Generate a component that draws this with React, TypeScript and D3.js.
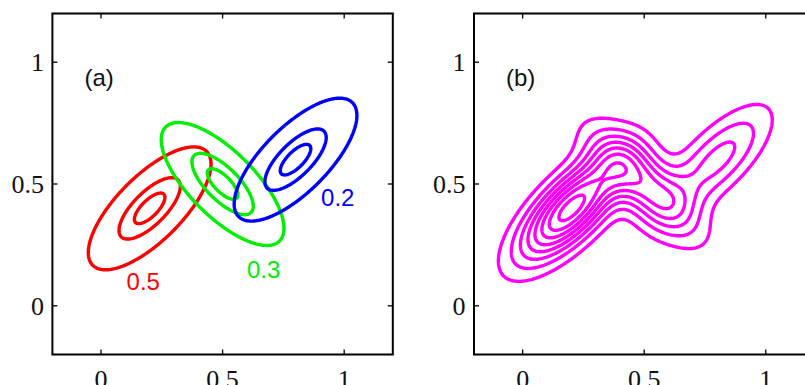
import React from "react";
import * as d3 from "d3";

// ---- data ----
const tickValues = [0, 0.5, 1];
const tickLabels = ["0", "0.5", "1"];
const domain = [-0.2, 1.2];

const compColors = ["#ff0000", "#00ee00", "#0000ff"];
const mixLabels = ["0.5", "0.3", "0.2"];
const mixWeights = [0.5, 0.3, 0.2];
const meanX = [0.2, 0.5, 0.8];
const meanY = [0.4, 0.5, 0.6];
const sdX = [0.145, 0.145, 0.145];
const sdY = [0.145, 0.145, 0.145];
const corr = [0.72, -0.72, 0.72];
// contour levels of each component in (a), as fraction of its peak density
const componentLevels = [0.22, 0.685, 0.91];
// contour levels of the mixture in (b), as fraction of its maximum density
const mixtureLevels = [0.118, 0.235, 0.353, 0.47, 0.588, 0.706, 0.823, 0.94];
// label positions (data coords) for mixing coefficients
const labelX = [0.105, 0.6, 0.905];
const labelY = [0.065, 0.115, 0.41];

const W = 805;
const H = 385;
const N = 281; // grid samples per axis

function gauss(k: number, x: number, y: number) {
  const dx = (x - meanX[k]) / sdX[k];
  const dy = (y - meanY[k]) / sdY[k];
  const r = corr[k];
  const q = (dx * dx - 2 * r * dx * dy + dy * dy) / (1 - r * r);
  return Math.exp(-q / 2) / (2 * Math.PI * sdX[k] * sdY[k] * Math.sqrt(1 - r * r));
}

const step = (domain[1] - domain[0]) / (N - 1);
function gridOf(f: (x: number, y: number) => number) {
  const v = new Array(N * N);
  for (let j = 0; j < N; j++) {
    const y = domain[1] - j * step;
    for (let i = 0; i < N; i++) {
      const x = domain[0] + i * step;
      v[j * N + i] = f(x, y);
    }
  }
  return v;
}

function Panel({ left, right, top, bottom, id, children }: any) {
  return null;
}

export default function App() {
  const panels = [
    { x0: 52.4, x1: 392.8, id: "a", label: "(a)" },
    { x0: 474.0, x1: 814.4, id: "b", label: "(b)" },
  ];
  const yTop = 13.5;
  const yBot = 354.5;
  const y = d3.scaleLinear().domain(domain).range([yBot, yTop]);

  const contourGen = d3.contours().size([N, N]).smooth(true);

  const compGrids = [0, 1, 2].map((k) => gridOf((x, yy) => gauss(k, x, yy)));
  const mixGrid = gridOf((x, yy) =>
    mixWeights.reduce((s, w, k) => s + w * gauss(k, x, yy), 0)
  );
  const mixMax = d3.max(mixGrid) as number;

  const out: any[] = [];
  panels.forEach((p, pi) => {
    const x = d3.scaleLinear().domain(domain).range([p.x0, p.x1]);
    // grid coordinate (value at index i sits at i+0.5) -> pixel
    const gx = (c: number) => x(domain[0] + (c - 0.5) * step);
    const gy = (c: number) => y(domain[1] - (c - 0.5) * step);
    const path = (geom: any) => {
      let d = "";
      geom.coordinates.forEach((poly: any) =>
        poly.forEach((ring: any) => {
          ring.forEach((pt: any, i: number) => {
            d += (i ? "L" : "M") + gx(pt[0]).toFixed(2) + "," + gy(pt[1]).toFixed(2);
          });
          d += "Z";
        })
      );
      return d;
    };
    const clipId = "clip" + p.id;
    const marks: any[] = [];
    if (pi === 0) {
      [0, 1, 2].forEach((k) => {
        const peak = 1 / (2 * Math.PI * sdX[k] * sdY[k] * Math.sqrt(1 - corr[k] * corr[k]));
        const geoms = contourGen.thresholds(componentLevels.map((f) => f * peak))(compGrids[k]);
        geoms.forEach((g: any, gi: number) =>
          marks.push(
            <path key={"c" + k + "-" + gi} d={path(g)} fill="none" stroke={compColors[k]} strokeWidth={3.4} strokeLinejoin="round" />
          )
        );
      });
    } else {
      const geoms = contourGen.thresholds(mixtureLevels.map((f) => f * mixMax))(mixGrid);
      geoms.forEach((g: any, gi: number) =>
        marks.push(<path key={"m" + gi} d={path(g)} fill="none" stroke="#ff00ff" strokeWidth={3.4} strokeLinejoin="round" />)
      );
    }
    out.push(
      <g key={p.id}>
        <defs>
          <clipPath id={clipId}>
            <rect x={p.x0} y={yTop} width={p.x1 - p.x0} height={yBot - yTop} />
          </clipPath>
        </defs>
        <g clipPath={`url(#${clipId})`}>{marks}</g>
        {pi === 0 &&
          mixLabels.map((t, k) => (
            <text key={"l" + k} x={x(labelX[k])} y={y(labelY[k])} fill={compColors[k]} fontFamily="Liberation Sans, Arial, sans-serif" fontSize={24}>
              {t}
            </text>
          ))}
        <text x={p.x0 + 32} y={86} fontFamily="Liberation Sans, Arial, sans-serif" fontSize={24} fill="#111">
          {p.label}
        </text>
        <rect x={p.x0} y={yTop} width={p.x1 - p.x0} height={yBot - yTop} fill="none" stroke="#000" strokeWidth={2} />
        {tickValues.map((v, i) => (
          <g key={"t" + i}>
            <line x1={x(v)} x2={x(v)} y1={yBot} y2={yBot - 5} stroke="#000" strokeWidth={1.3} />
            <line x1={x(v)} x2={x(v)} y1={yTop} y2={yTop + 5} stroke="#000" strokeWidth={1.3} />
            <line x1={p.x0} x2={p.x0 + 5} y1={y(v)} y2={y(v)} stroke="#000" strokeWidth={1.3} />
            <line x1={p.x1} x2={p.x1 - 5} y1={y(v)} y2={y(v)} stroke="#000" strokeWidth={1.3} />
            <text x={x(v)} y={yBot + 33} textAnchor="middle" fontFamily="Liberation Serif, Times New Roman, serif" fontSize={26} fill="#111">
              {tickLabels[i]}
            </text>
            <text x={p.x0 - 8.5} y={y(v) + 9} textAnchor="end" fontFamily="Liberation Serif, Times New Roman, serif" fontSize={26} fill="#111">
              {tickLabels[i]}
            </text>
          </g>
        ))}
      </g>
    );
  });

  return (
    <svg width={W} height={H} style={{ position: "absolute", left: 0, top: 0, background: "#fff" }}>
      <rect width={W} height={H} fill="#fff" />
      {out}
    </svg>
  );
}
